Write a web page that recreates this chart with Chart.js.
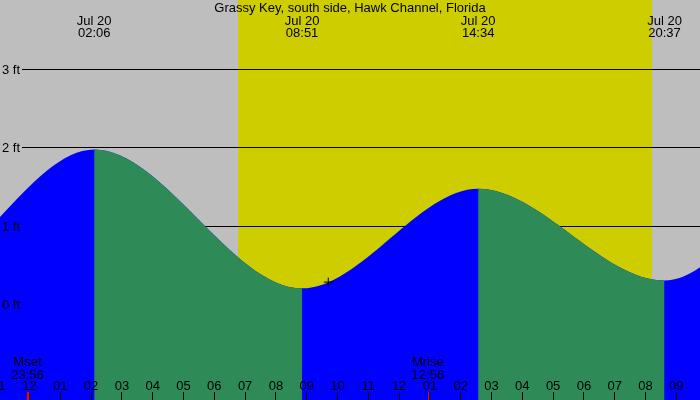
<!DOCTYPE html>
<html>
<head>
<meta charset="utf-8">
<style>
  html, body { margin: 0; padding: 0; background: #bebebe; }
  canvas { display: block; }
</style>
<script src="https://cdn.jsdelivr.net/npm/chart.js@4.4.1/dist/chart.umd.min.js"></script>
</head>
<body>
<canvas id="c" width="700" height="400"></canvas>
<script>
// ---- Data (hours relative to midnight starting Jul 20; heights in ft) ----
const title = "Grassy Key, south side, Hawk Channel, Florida";
const extremeTimes   = [-10.4, -4.1, 2.1, 8.85, 14.567, 20.617, 26.6, 32.9];
const extremeHeights = [1.6, 0.22, 1.98, 0.21, 1.48, 0.31, 2.05, 0.2];
const extremeDates   = ["", "", "Jul 20", "Jul 20", "Jul 20", "Jul 20", "", ""];
const extremeClock   = ["", "", "02:06", "08:51", "14:34", "20:37", "", ""];
const heightTicks = [0, 1, 2, 3];
const heightTickLabels = ["0 ft", "1 ft", "2 ft", "3 ft"];
const hourTicks = [-1,0,1,2,3,4,5,6,7,8,9,10,11,12,13,14,15,16,17,18,19,20,21];
const hourTickLabels = ["11","12","01","02","03","04","05","06","07","08","09","10","11","12","01","02","03","04","05","06","07","08","09"];
const sunrise = 6.769, sunset = 20.2;
const moonTimes  = [-0.067, 12.933];
const moonNames  = ["Mset", "Mrise"];
const moonClock  = ["23:56", "12:56"];
const nowTime = 9.70, nowHeight = 0.29;
const xMin = -0.9578, xMax = 21.769;
const yMin = -1.2124, yMax = 3.8832;

const C_NIGHT = "#bebebe", C_DAY = "#cdcd00", C_FLOOD = "#0000ff", C_EBB = "#2e8b57";
const FONT = "13px 'Liberation Sans', Arial, sans-serif";

const decor = {
  id: "decor",
  beforeDatasetsDraw(chart) {
    const {ctx, scales: {x, y}} = chart;
    ctx.save();
    ctx.fillStyle = C_NIGHT;
    ctx.fillRect(0, 0, chart.width, chart.height);
    const xr = Math.round(x.getPixelForValue(sunrise));
    const xs = Math.round(x.getPixelForValue(sunset));
    ctx.fillStyle = C_DAY;
    ctx.fillRect(xr, 0, xs - xr, chart.height);
    ctx.strokeStyle = "#000";
    ctx.lineWidth = 1;
    heightTicks.forEach(v => {
      const py = Math.floor(y.getPixelForValue(v)) + 0.5;
      ctx.beginPath();
      ctx.moveTo(22, py);
      ctx.lineTo(chart.width, py);
      ctx.stroke();
    });
    ctx.restore();
  },
  afterDatasetsDraw(chart) {
    const {ctx, scales: {x, y}} = chart;
    ctx.save();
    ctx.font = FONT;
    ctx.fillStyle = "#000";
    ctx.textBaseline = "alphabetic";
    ctx.textAlign = "center";
    ctx.fillText(title, chart.width / 2, 11.5);
    extremeTimes.forEach((t, i) => {
      if (!extremeDates[i]) return;
      const px = x.getPixelForValue(t);
      ctx.fillText(extremeDates[i], px, 25);
      ctx.fillText(extremeClock[i], px, 36.5);
    });
    ctx.textAlign = "left";
    ctx.textBaseline = "middle";
    heightTicks.forEach((v, i) => {
      ctx.fillText(heightTickLabels[i], 2, Math.floor(y.getPixelForValue(v)) + 1);
    });
    ctx.textAlign = "center";
    ctx.textBaseline = "alphabetic";
    moonTimes.forEach((t, i) => {
      const px = x.getPixelForValue(t);
      ctx.fillStyle = "#000";
      ctx.fillText(moonNames[i], px, 366);
      ctx.fillText(moonClock[i], px, 378.5);
      ctx.fillStyle = "#ff0000";
      ctx.fillRect(Math.round(px), 392, 2, 8);
    });
    ctx.fillStyle = "#000";
    hourTicks.forEach((t, i) => {
      const px = x.getPixelForValue(t);
      ctx.fillText(hourTickLabels[i], px, 389.5);
      ctx.fillRect(Math.floor(px), 392, 1, 8);
    });
    ctx.restore();
  }
};

const tidePoints = extremeTimes.map((t, i) => ({x: t, y: extremeHeights[i]}));

new Chart(document.getElementById("c"), {
  type: "line",
  data: {
    datasets: [
      {
        label: "tide (flood base)",
        data: tidePoints,
        cubicInterpolationMode: "monotone",
        fill: "start",
        borderWidth: 0,
        borderColor: "rgba(0,0,0,0)",
        backgroundColor: C_FLOOD,
        pointRadius: 0,
        order: 3
      },
      {
        label: "tide (ebb)",
        data: tidePoints,
        cubicInterpolationMode: "monotone",
        fill: "start",
        borderWidth: 0,
        borderColor: "rgba(0,0,0,0)",
        backgroundColor: "rgba(0,0,0,0)",
        pointRadius: 0,
        segment: {
          backgroundColor: c => (c.p1.parsed.y < c.p0.parsed.y ? C_EBB : "rgba(0,0,0,0)")
        },
        order: 2
      },
      {
        label: "now",
        data: [{x: nowTime, y: nowHeight}],
        showLine: false,
        pointStyle: "cross",
        pointRadius: 4.5,
        borderColor: "#000",
        borderWidth: 1,
        backgroundColor: "#000",
        order: 1
      }
    ]
  },
  options: {
    responsive: false,
    animation: false,
    events: [],
    layout: {padding: 0, autoPadding: false},
    scales: {
      x: {type: "linear", min: xMin, max: xMax, display: false},
      y: {type: "linear", min: yMin, max: yMax, display: false}
    },
    plugins: {legend: {display: false}, tooltip: {enabled: false}}
  },
  plugins: [decor]
});
</script>
</body>
</html>
